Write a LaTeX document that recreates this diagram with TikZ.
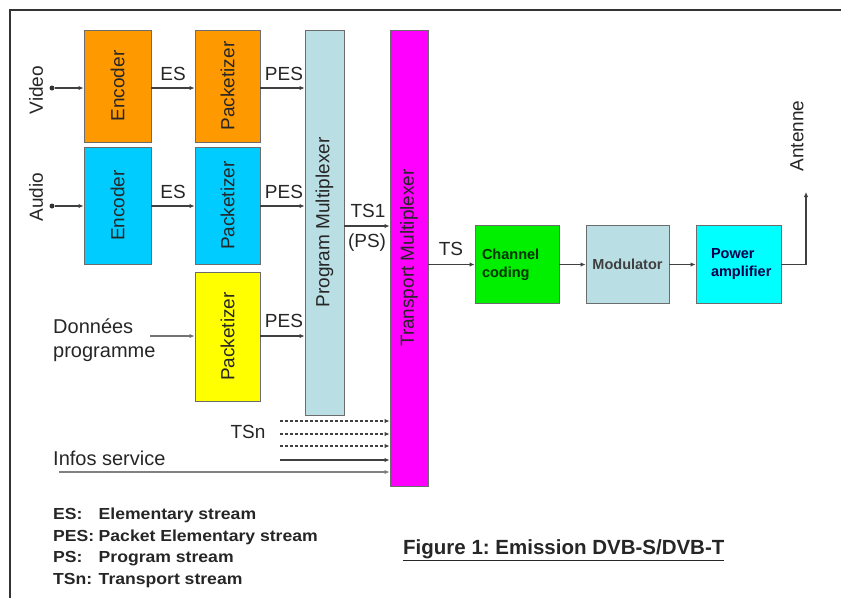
\documentclass[tikz,border=0pt]{standalone}
\usepackage{fontspec}
\setmainfont{Liberation Sans}
\usetikzlibrary{arrows.meta}
\frenchspacing
\definecolor{orangeBloc}{RGB}{255,153,0}
\definecolor{bleuBloc}{RGB}{0,204,255}
\definecolor{jauneBloc}{RGB}{255,255,0}
\definecolor{grisBleu}{RGB}{185,222,228}
\definecolor{magentaBloc}{RGB}{255,0,255}
\definecolor{vertBloc}{RGB}{0,240,0}
\definecolor{cyanBloc}{RGB}{0,255,255}
\begin{document}
\begin{tikzpicture}[x=1pt,y=-1pt,
	blk/.style={draw=gray!85!black, line width=0.9pt, inner sep=0pt, font=\fontsize{19}{19}\selectfont, text=black!85},
	flow/.style={draw=black!75, line width=1.1pt, -{Latex[length=5pt,width=4.5pt]}},
	lbl/.style={font=\fontsize{19}{24}\selectfont, text=black!85, inner sep=0pt},
	petit/.style={font=\fontsize{14.5}{18}\selectfont\bfseries, align=left},
	dot/.style={circle, fill=black!80, inner sep=0pt, minimum size=5pt}]
		\useasboundingbox (0,0) rectangle (841,598);
		\draw[black!80, line width=1.2pt] (10,598) -- (10,10) -- (841,10);

		% blocs
		\node[blk, fill=orangeBloc, minimum width=67pt, minimum height=112pt] (encV) at (117.5,86) {\rotatebox{90}{Encoder}};
		\node[blk, fill=orangeBloc, minimum width=65pt, minimum height=112pt] (pktV) at (227.5,86) {\rotatebox{90}{Packetizer}};
		\node[blk, fill=bleuBloc, minimum width=67pt, minimum height=117pt] (encA) at (117.5,205.5) {\rotatebox{90}{Encoder}};
		\node[blk, fill=bleuBloc, minimum width=65pt, minimum height=117pt] (pktA) at (227.5,205.5) {\rotatebox{90}{Packetizer}};
		\node[blk, fill=jauneBloc, minimum width=65pt, minimum height=129pt] (pktD) at (227.5,336.5) {\rotatebox{90}{Packetizer}};
		\node[blk, fill=grisBleu, minimum width=39pt, minimum height=385pt] (pmux) at (324.5,222.5) {\rotatebox{90}{Program Multiplexer}};
		\node[blk, fill=magentaBloc, minimum width=38pt, minimum height=456pt] (tmux) at (409,258) {\rotatebox{90}{Transport Multiplexer}};
		\node[blk, petit, fill=vertBloc, text=green!20!black, minimum width=84pt, minimum height=78pt, text width=70pt] (chc) at (517,264.5) {Channel\\coding};
		\node[blk, petit, fill=grisBleu, text=black!75, minimum width=83pt, minimum height=78pt] (mod) at (627.5,264.5) {Modulator};
		\node[blk, petit, fill=cyanBloc, text=blue!30!black, minimum width=85pt, minimum height=78pt, text width=55pt] (pamp) at (738.5,264.5) {Power\\amplifier};

		% entrees
		\node[dot] (inV) at (52,88) {};
		\node[dot] (inA) at (52,206) {};
		\node[lbl, rotate=90] (video) at (36,90) {Video};
		\node[lbl, rotate=90] (audio) at (36,197) {Audio};
		\node[lbl, align=left, anchor=west, font=\fontsize{20}{24}\selectfont] (donnees) at (53,340) {Données\\programme};
		\coordinate (dIn) at (150,336);
		\node[lbl, anchor=west, font=\fontsize{20}{24}\selectfont] (infos) at (53,458) {Infos service};
		\coordinate (infIn) at (59,472);
		\node[lbl] (tsn) at (248,432) {TSn};
		\coordinate (tsA) at (280,421);
		\coordinate (tsB) at (280,434);
		\coordinate (tsC) at (280,446);
		\coordinate (tsD) at (280,460);
		\coordinate (ant) at (806,192);

		% labels
		\node[lbl] (esV) at (173,74) {ES};
		\node[lbl] (pesV) at (284,74) {PES};
		\node[lbl] (esA) at (173,192) {ES};
		\node[lbl] (pesA) at (284,192) {PES};
		\node[lbl] (pesD) at (284,321) {PES};
		\node[lbl] (ts1) at (368,211) {TS1};
		\node[lbl] (ps) at (367,243) {(PS)};
		\node[lbl] (ts) at (451,249) {TS};
		\node[lbl, rotate=90] (antenne) at (797,136) {Antenne};

		% fleches
		\draw[flow] (inV) -- (inV -| encV.west);
		\draw[flow] (encV.east |- inV) -- (pktV.west |- inV);
		\draw[flow] (pktV.east |- inV) -- (pmux.west |- inV);
		\draw[flow] (inA) -- (inA -| encA.west);
		\draw[flow] (encA.east |- inA) -- (pktA.west |- inA);
		\draw[flow] (pktA.east |- inA) -- (pmux.west |- inA);
		\draw[flow, draw=black!55] (dIn) -- (dIn -| pktD.west);
		\draw[flow] (pktD.east |- dIn) -- (pmux.west |- dIn);
		\draw[flow] (pmux.east |- 0,226) -- (tmux.west |- 0,226);
		\draw[flow, dash pattern=on 3pt off 2pt] (tsA) -- (tsA -| tmux.west);
		\draw[flow, dash pattern=on 3pt off 2pt] (tsB) -- (tsB -| tmux.west);
		\draw[flow, dash pattern=on 3pt off 2pt] (tsC) -- (tsC -| tmux.west);
		\draw[flow] (tsD) -- (tsD -| tmux.west);
		\draw[flow, draw=black!50, line width=1.6pt] (infIn) -- (infIn -| tmux.west);
		\draw[flow] (tmux.east |- chc) -- (chc.west);
		\draw[flow] (chc) -- (mod);
		\draw[flow] (mod) -- (pamp);
		\draw[flow] (pamp.east) -| (ant);

		% legende
		\node[anchor=north west, inner sep=0pt, xscale=1.1, text=black!85, font=\fontsize{16}{21.7}\selectfont\bfseries] (leg) at (53,504) {%
			\begin{tabular}{@{}l@{\hspace{4pt}}l@{}}
				ES: & Elementary stream\\
				PES: & Packet Elementary stream\\
				PS: & Program stream\\
				TSn: & Transport stream
			\end{tabular}};
		\node[anchor=west, inner sep=0pt, text=black!85, font=\fontsize{20.5}{24}\selectfont\bfseries] (titre) at (403,550) {\underline{Figure 1: Emission DVB-S/DVB-T}};
	\end{tikzpicture}
\end{document}
